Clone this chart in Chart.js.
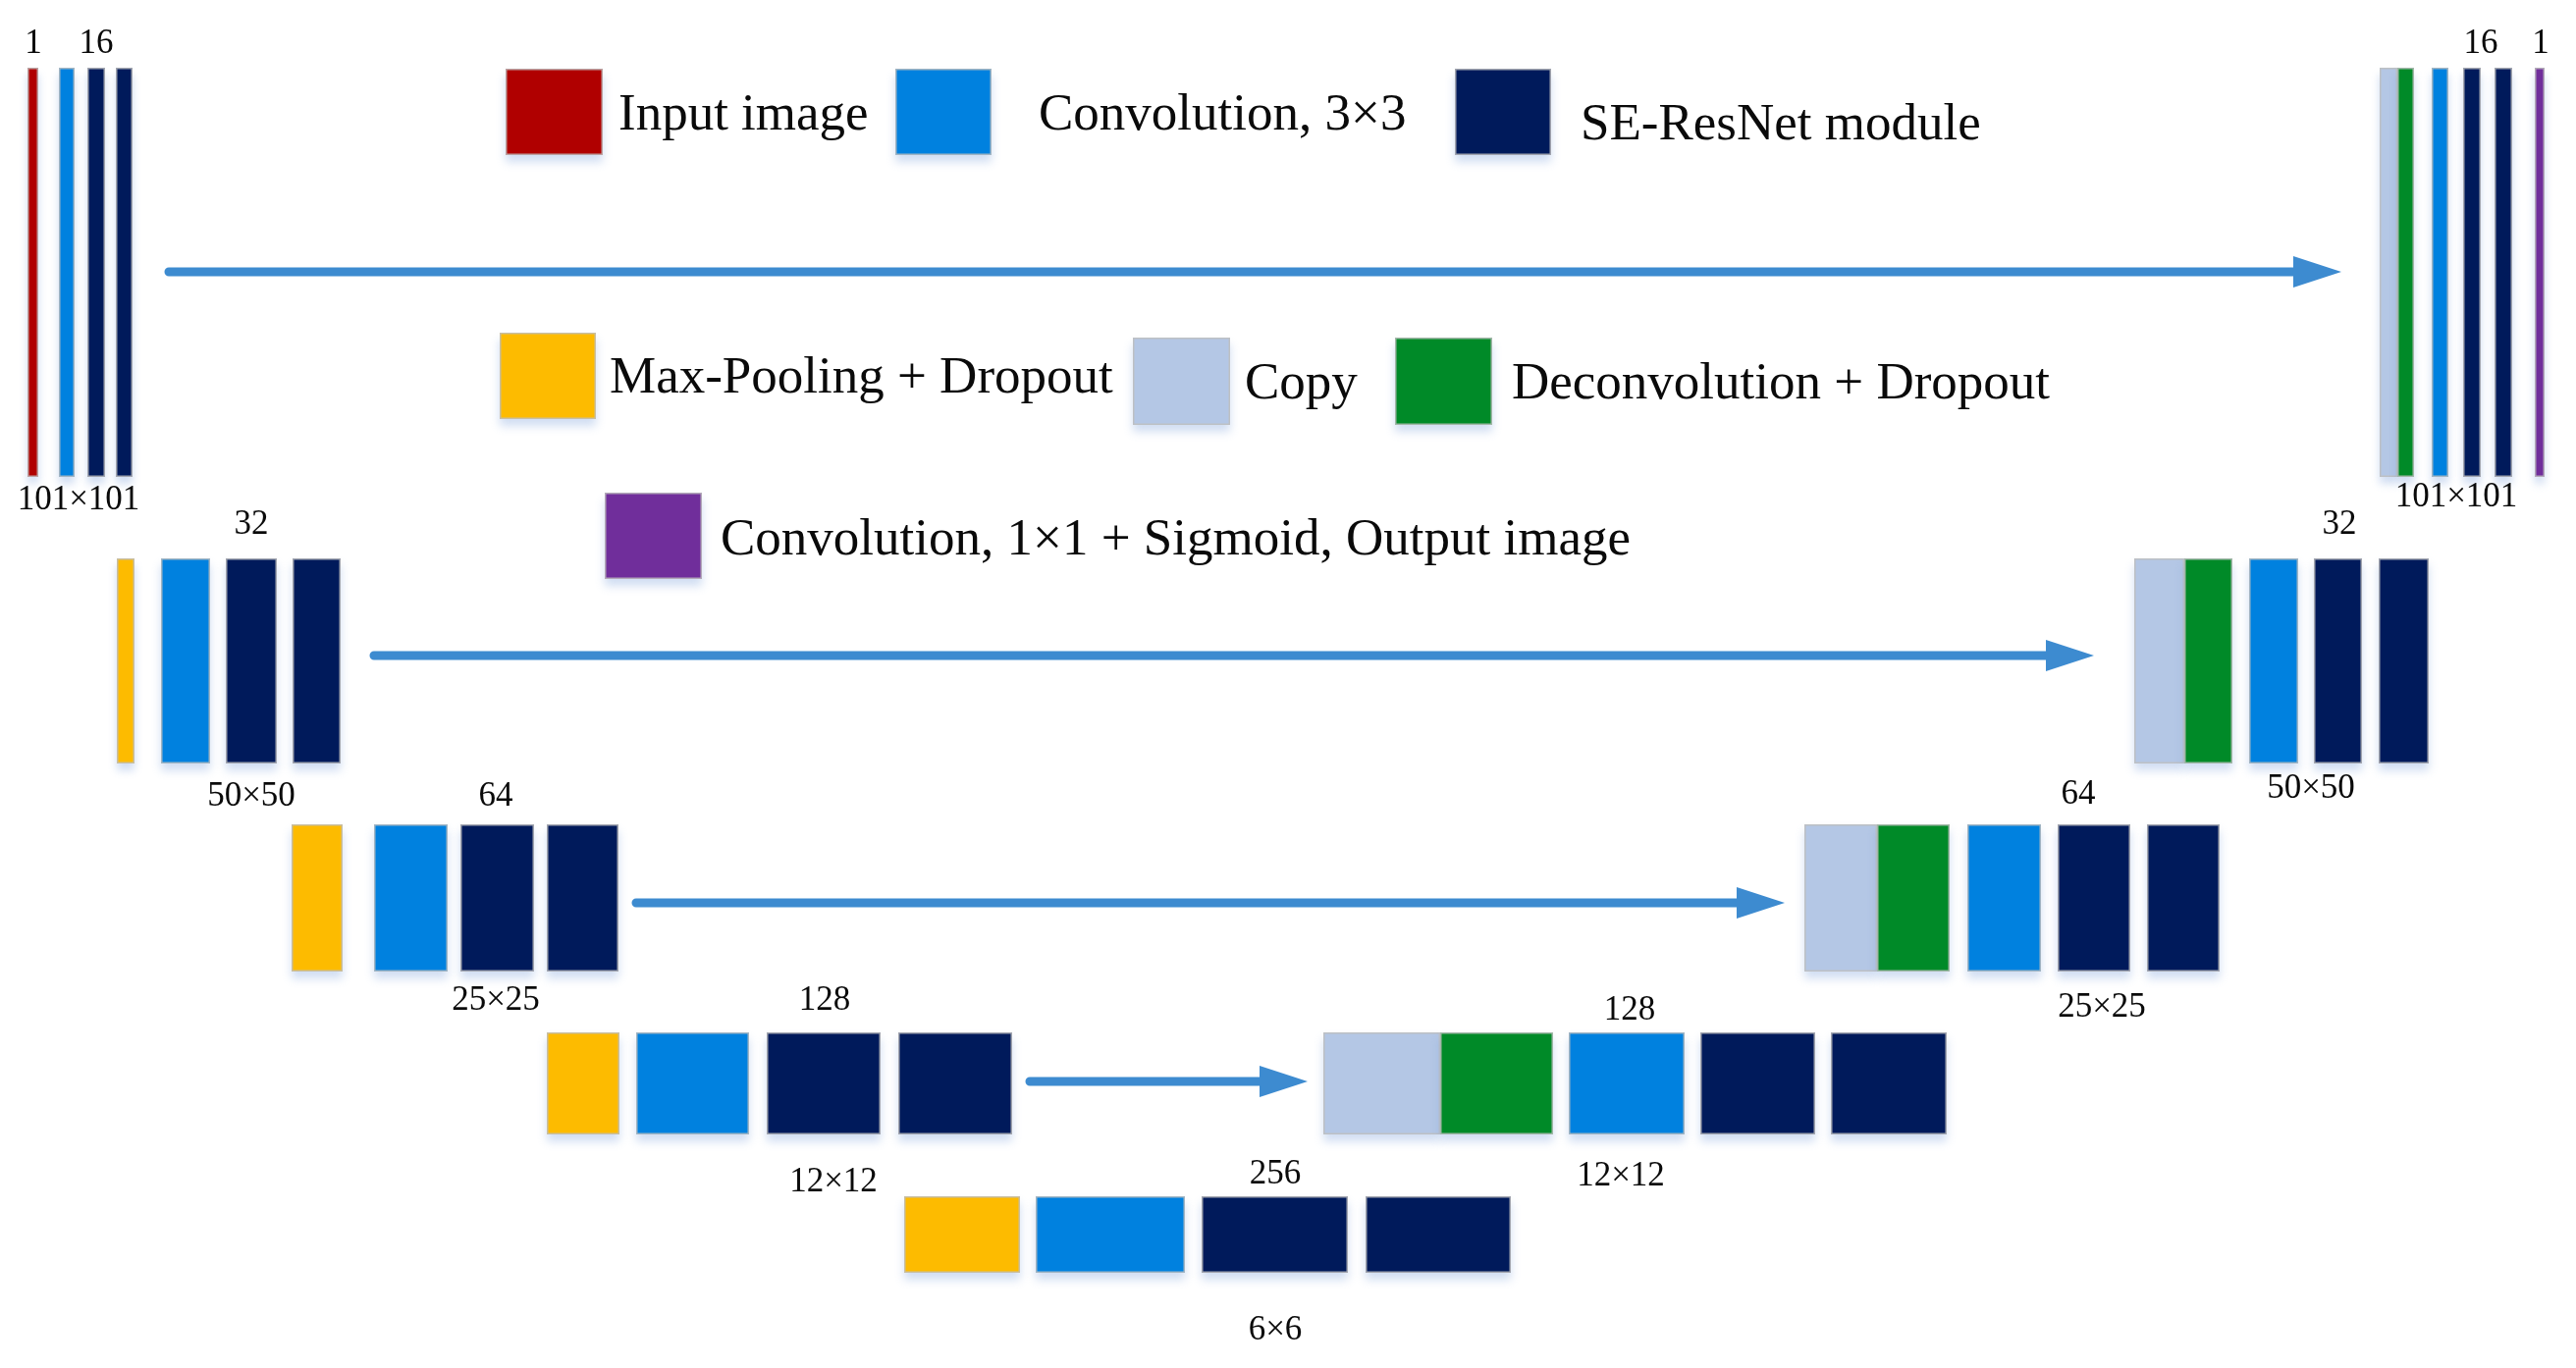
<!DOCTYPE html>
<html><head><meta charset="utf-8">
<script src="https://cdn.jsdelivr.net/npm/chart.js@4.4.1/dist/chart.umd.min.js"></script>
<style>html,body{margin:0;padding:0;background:#fff;overflow:hidden}#wrap{width:2624px;height:1394px}</style>
</head><body><div id="wrap"><canvas id="c" width="2624" height="1394"></canvas></div>
<script>
// ---------- data ----------
const resolutions = ['101×101','50×50','25×25','12×12','6×6'];
const channels = ['16','32','64','128','256'];
const ioChannels = ['1','1'];
const encoderLayers = [
  ['input','conv','se','se'],
  ['pool','conv','se','se'],
  ['pool','conv','se','se'],
  ['pool','conv','se','se'],
  ['pool','conv','se','se']
];
const decoderLayers = [
  ['copy','deconv','conv','se','se','output'],
  ['copy','deconv','conv','se','se'],
  ['copy','deconv','conv','se','se'],
  ['copy','deconv','conv','se','se']
];
const legendKeys = ['input','conv','se','pool','copy','deconv','output'];
const legendLabels = ['Input image','Convolution, 3×3','SE-ResNet module','Max-Pooling + Dropout','Copy','Deconvolution + Dropout','Convolution, 1×1 + Sigmoid, Output image'];

// ---------- layout (diagram units) ----------
const levelY = [[69,486],[569,778],[840,990],[1052,1156],[1219,1297]];
const encoderX = [
  [[28,39],[60,76],[89,107],[118,135]],
  [[119,137],[164,214],[230,282],[298,347]],
  [[297,349],[381,456],[469,544],[557,630]],
  [[557,631],[648,763],[781,897],[915,1031]],
  [[921,1039],[1055,1207],[1224,1373],[1391,1539]]
];
const decoderX = [
  [[2424,2442],[2442,2459],[2477,2494],[2509,2527],[2541,2559],[2582,2592]],
  [[2174,2225],[2225,2274],[2291,2341],[2357,2406],[2423,2474]],
  [[1838,1912],[1912,1986],[2004,2079],[2096,2170],[2187,2261]],
  [[1348,1467],[1467,1582],[1598,1716],[1732,1849],[1865,1983]]
];
const skipArrows = [[168,2385,277],[377,2133,668],[644,1818,920],[1045,1332,1102]];
const encChanPos = [[98,45],[256,535],[505,812],[840,1020],[1299,1197]];
const encResPos  = [[80,510],[256,812],[505,1020],[849,1205],[1299,1356]];
const decChanPos = [[2527,45],[2383,535],[2117,810],[1660,1030]];
const decResPos  = [[2502,507],[2354,804],[2141,1027],[1651,1199]];
const ioPos = [[34,45],[2588,45]];
const legendBox = [[515,614,70,158],[912,1010,70,158],[1482,1580,70,158],[509,607,339,427],[1154,1253,344,433],[1421,1520,344,433],[616,715,502,590]];
const legendTextPos = [[630,132],[1058,132],[1610,142],[621,400],[1268,406],[1540,406],[734,565]];

// ---------- styles ----------
const colorMap = {input:'#B00000', conv:'#0081DF', se:'#001A5B', pool:'#FDBB00', copy:'#B4C7E5', deconv:'#008A28', output:'#702E9B'};
const arrowColor = '#3D8BD0';
const textColor = '#0a0a0a';

const diagram = {
  id:'diagram',
  afterDatasetsDraw(chart){
    const ctx = chart.ctx;
    const sx = chart.scales.x, sy = chart.scales.y;
    const px = v => sx.getPixelForValue(v);
    const py = v => sy.getPixelForValue(v);
    function box(x0,x1,y0,y1,key){
      const X0=px(x0), X1=px(x1), Y0=py(y0), Y1=py(y1);
      ctx.save();
      ctx.shadowColor='rgba(110,150,215,0.32)'; ctx.shadowBlur=9; ctx.shadowOffsetY=7;
      ctx.fillStyle=colorMap[key];
      ctx.fillRect(X0,Y0,X1-X0,Y1-Y0);
      ctx.restore();
      ctx.save();
      ctx.strokeStyle='rgba(190,190,190,0.85)'; ctx.lineWidth=1.5;
      ctx.strokeRect(X0+0.75,Y0+0.75,X1-X0-1.5,Y1-Y0-1.5);
      ctx.restore();
    }
    encoderLayers.forEach((layers,l)=>{
      layers.forEach((k,i)=>box(encoderX[l][i][0],encoderX[l][i][1],levelY[l][0],levelY[l][1],k));
    });
    decoderLayers.forEach((layers,l)=>{
      layers.forEach((k,i)=>box(decoderX[l][i][0],decoderX[l][i][1],levelY[l][0],levelY[l][1],k));
    });
    legendKeys.forEach((k,i)=>box(legendBox[i][0],legendBox[i][1],legendBox[i][2],legendBox[i][3],k));
    skipArrows.forEach(a=>{
      const x0=px(a[0]), tip=px(a[1]), y=py(a[2]);
      const base = tip-49, half=16, th=9;
      ctx.save();
      ctx.fillStyle=arrowColor;
      ctx.beginPath();
      ctx.moveTo(x0+4,y-th/2); ctx.lineTo(base,y-th/2); ctx.lineTo(base,y-half); ctx.lineTo(tip,y);
      ctx.lineTo(base,y+half); ctx.lineTo(base,y+th/2); ctx.lineTo(x0+4,y+th/2);
      ctx.arc(x0+4,y,th/2,Math.PI/2,Math.PI*1.5);
      ctx.closePath(); ctx.fill();
      ctx.restore();
    });
    ctx.save();
    ctx.fillStyle=textColor;
    ctx.textAlign='center'; ctx.textBaseline='middle';
    ctx.font='35px "Liberation Serif", "Times New Roman", serif';
    channels.forEach((t,i)=>ctx.fillText(t,px(encChanPos[i][0]),py(encChanPos[i][1])));
    resolutions.forEach((t,i)=>ctx.fillText(t,px(encResPos[i][0]),py(encResPos[i][1])));
    channels.slice(0,4).forEach((t,i)=>ctx.fillText(t,px(decChanPos[i][0]),py(decChanPos[i][1])));
    resolutions.slice(0,4).forEach((t,i)=>ctx.fillText(t,px(decResPos[i][0]),py(decResPos[i][1])));
    ioChannels.forEach((t,i)=>ctx.fillText(t,px(ioPos[i][0]),py(ioPos[i][1])));
    ctx.textAlign='left'; ctx.textBaseline='alphabetic';
    ctx.font='53px "Liberation Serif", "Times New Roman", serif';
    legendLabels.forEach((t,i)=>ctx.fillText(t,px(legendTextPos[i][0]),py(legendTextPos[i][1])));
    ctx.restore();
  }
};

new Chart(document.getElementById('c'), {
  type:'scatter',
  data:{datasets:[{data:[]}]},
  options:{
    responsive:false, animation:false, devicePixelRatio:1,
    layout:{padding:0},
    scales:{
      x:{type:'linear',min:0,max:2624,display:false},
      y:{type:'linear',min:0,max:1394,reverse:true,display:false}
    },
    plugins:{legend:{display:false},tooltip:{enabled:false}}
  },
  plugins:[diagram]
});
</script></body></html>
